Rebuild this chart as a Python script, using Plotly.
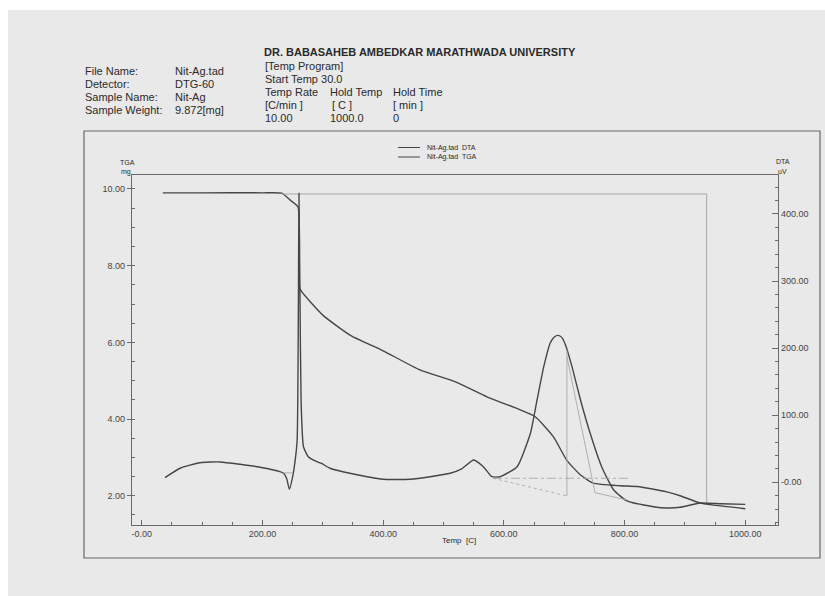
import plotly.graph_objects as go

# ---------------- data ----------------
tga_temp = [35, 100, 200, 232, 246, 259, 261.5, 265, 300, 345, 400, 461, 520, 572,
            627, 652, 682, 704, 727, 748, 793, 820, 848, 870, 892, 925, 945, 1000]
tga_mg = [9.90, 9.90, 9.90, 9.89, 9.71, 9.53, 7.44, 7.32, 6.71, 6.19, 5.78, 5.28, 4.97, 4.58,
          4.24, 4.06, 3.54, 2.93, 2.54, 2.33, 2.26, 2.24, 2.17, 2.10, 2.00, 1.81, 1.76, 1.66]

dta_temp = [38.6, 63.5, 96.6, 130, 163, 196, 229, 235, 240, 244.7, 250, 254, 257.5, 259.5,
            260.5, 262, 264, 268, 276, 290, 298, 312, 345, 400, 445, 478, 511, 530, 550,
            566, 580, 594, 622, 644, 655, 666, 677, 684, 690, 696, 702, 713, 727, 743, 762, 782,
            804, 848, 870, 892, 925, 960, 1000]
dta_uv = [6.9, 20.9, 29.2, 30.3, 26.8, 22.4, 15.8, 13.4, 6, -10.4, 8, 30.7, 63, 250,
          431, 300, 123, 53, 38, 30.7, 28, 20.9, 13.4, 4.5, 4.5, 8.3, 13.4, 20, 33.2,
          23.2, 8.3, 8.3, 23.2, 73, 122.7, 172, 208, 217, 219, 216, 205, 172, 122.7, 73, 23.2, -11.5,
          -27.9, -36.4, -38.3, -37.3, -31, -32, -33]

# analysis (step / onset) helper lines
step_box_temp = [232, 936, 936]
step_box_mg = [9.87, 9.87, 1.81]
dip_base_temp = [235, 250]
dip_base_uv = [14, 14]
peak_base_temp = [582, 704.5]
peak_base_uv = [6, -20.4]
peak_level_temp = [582, 810]
peak_level_uv = [6, 6]
peak_vert_temp = [704.5, 704.5]
peak_vert_uv = [197, -20.4]
peak_tan_temp = [704.5, 751, 804]
peak_tan_uv = [187, -15.5, -26.4]

x_ticks = [0, 200, 400, 600, 800, 1000]
x_ticktext = ["-0.00", "200.00", "400.00", "600.00", "800.00", "1000.00"]
tga_ticks = [2, 4, 6, 8, 10]
tga_ticktext = ["2.00", "4.00", "6.00", "8.00", "10.00"]
dta_ticks = [0, 100, 200, 300, 400]
dta_ticktext = ["-0.00", "100.00", "200.00", "300.00", "400.00"]

# ---------------- layout geometry ----------------
W, H = 825, 596
L, R, T, B = 132, 47, 175, 71
PW, PH = W - L - R, H - T - B


def px(x):
    return (x - L) / PW


def py(y):
    return (H - B - y) / PH


CURVE = "#464646"
AXIS = "#6a6a6a"
HELP = "#a8a8a8"
FONT = "Liberation Sans, Arial, sans-serif"

fig = go.Figure()
fig.add_trace(go.Scatter(x=tga_temp, y=tga_mg, mode="lines", name="Nit-Ag.tad  TGA",
                         line=dict(color=CURVE, width=1.4, shape="spline", smoothing=0.5),
                         yaxis="y"))
fig.add_trace(go.Scatter(x=dta_temp, y=dta_uv, mode="lines", name="Nit-Ag.tad  DTA",
                         line=dict(color=CURVE, width=1.4, shape="spline", smoothing=0.5),
                         yaxis="y2"))

fig.add_trace(go.Scatter(x=step_box_temp, y=step_box_mg, mode="lines",
                         line=dict(color=HELP, width=1), yaxis="y", hoverinfo="skip"))
for xs, ys, dash in [(dip_base_temp, dip_base_uv, "solid"),
                     (peak_base_temp, peak_base_uv, "dot"),
                     (peak_level_temp, peak_level_uv, "dashdot"),
                     (peak_vert_temp, peak_vert_uv, "solid"),
                     (peak_tan_temp, peak_tan_uv, "solid")]:
    fig.add_trace(go.Scatter(x=xs, y=ys, mode="lines", yaxis="y2", hoverinfo="skip",
                             line=dict(color=HELP, width=0.9, dash=dash)))

tickfont = dict(family=FONT, size=9, color="#444")

fig.update_layout(
    width=W, height=H,
    margin=dict(l=L, r=R, t=T, b=B),
    paper_bgcolor="#e9e9e9", plot_bgcolor="#e9e9e9",
    showlegend=False,
    font=dict(family=FONT, color="#333"),
    xaxis=dict(range=[-16.1, 1054.2], tickmode="array", tickvals=x_ticks, ticktext=x_ticktext,
               showgrid=False, zeroline=False, showline=True, linecolor=AXIS, linewidth=1.2,
               mirror=True, ticks="inside", ticklen=5, tickcolor=AXIS, tickfont=tickfont,
               minor=dict(dtick=50, tick0=0, ticks="inside", ticklen=3, tickcolor=AXIS)),
    yaxis=dict(range=[1.236, 10.365], tickmode="array", tickvals=tga_ticks, ticktext=tga_ticktext,
               showgrid=False, zeroline=False, showline=True, linecolor=AXIS, linewidth=1.2,
               ticks="outside", ticklen=4, tickcolor=AXIS, tickfont=tickfont,
               minor=dict(dtick=0.5, tick0=0, ticks="inside", ticklen=3, tickcolor=AXIS)),
    yaxis2=dict(range=[-63.7, 458.1], overlaying="y", side="right", tickmode="array",
                tickvals=dta_ticks, ticktext=dta_ticktext,
                showgrid=False, zeroline=False, showline=True, linecolor=AXIS, linewidth=1.2,
                ticks="inside", ticklen=6, tickcolor=AXIS, tickfont=tickfont,
                minor=dict(dtick=20, tick0=0, ticks="inside", ticklen=3, tickcolor=AXIS)),
)

shapes = [
    # scanner white margins
    dict(type="rect", xref="paper", yref="paper", x0=px(0), x1=px(W), y0=py(10), y1=py(0),
         fillcolor="white", line=dict(width=0), layer="below"),
    dict(type="rect", xref="paper", yref="paper", x0=px(0), x1=px(8), y0=py(H), y1=py(0),
         fillcolor="white", line=dict(width=0), layer="below"),
    # outer frame
    dict(type="rect", xref="paper", yref="paper", x0=px(84), x1=px(820), y0=py(558), y1=py(131),
         line=dict(color="#6a6a6a", width=1.2)),
    # legend sample lines
    dict(type="line", xref="paper", yref="paper", x0=px(398), x1=px(420), y0=py(147.5), y1=py(147.5),
         line=dict(color=CURVE, width=1)),
    dict(type="line", xref="paper", yref="paper", x0=px(398), x1=px(420), y0=py(157), y1=py(157),
         line=dict(color=CURVE, width=1)),
]
fig.update_layout(shapes=shapes)

ann = []


def text(x, y, s, size=11, bold=False, anchor="left", color="#2a2a2a"):
    ann.append(dict(xref="paper", yref="paper", x=px(x), y=py(y), text=("<b>%s</b>" % s) if bold else s,
                    showarrow=False, xanchor=anchor, yanchor="middle",
                    font=dict(family=FONT, size=size, color=color)))


text(262, 52, "DR. BABASAHEB AMBEDKAR MARATHWADA UNIVERSITY", size=11, bold=True)

info_rows = [("File Name:", "Nit-Ag.tad", 71), ("Detector:", "DTG-60", 84),
             ("Sample Name:", "Nit-Ag", 97), ("Sample Weight:", "9.872[mg]", 110)]
for k, v, y in info_rows:
    text(83, y, k)
    text(173, y, v)

text(263, 66, "[Temp Program]")
text(263, 79, "Start Temp 30.0")
text(263, 92, "Temp Rate")
text(328, 92, "Hold Temp")
text(391, 92, "Hold Time")
text(263, 105, "[C/min ]")
text(330, 105, "[ C ]")
text(391, 105, "[ min ]")
text(263, 118, "10.00")
text(328, 118, "1000.0")
text(391, 118, "0")

text(425, 147.5, "Nit-Ag.tad  DTA", size=7)
text(425, 157, "Nit-Ag.tad  TGA", size=7)

text(127, 162, "TGA", size=7, anchor="center")
text(126, 171.5, "mg", size=7, anchor="center")
text(783, 161, "DTA", size=7, anchor="center")
text(782, 171, "uV", size=7, anchor="center")
text(459, 540, "Temp  [C]", size=8, anchor="center")

fig.update_layout(annotations=ann)

fig.write_html("out.html", config={"displayModeBar": False},
               post_script="document.body.style.margin='0px';document.body.style.overflow='hidden';")
